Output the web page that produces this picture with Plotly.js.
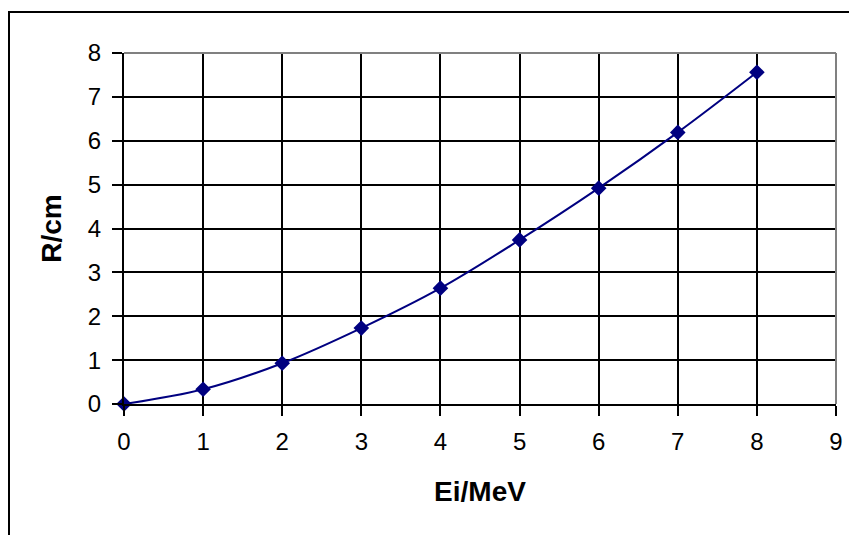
<!DOCTYPE html>
<html>
<head>
<meta charset="utf-8">
<script src="https://cdn.plot.ly/plotly-3.0.1.min.js"></script>
<style>
  html, body { margin: 0; padding: 0; background: #fff; overflow: hidden; }
  #wrap { position: relative; width: 849px; height: 535px; }
  #chart { position: absolute; left: 0; top: 0; width: 849px; height: 535px; }
  #frame { position: absolute; left: 8px; top: 11px; width: 900px; height: 600px;
           border-left: 2px solid #000; border-top: 2px solid #000; pointer-events: none; }
</style>
</head>
<body>
<div id="wrap">
  <div id="chart"></div>
  <div id="frame"></div>
</div>
<script>
// Data
const energyMeV = [0, 1, 2, 3, 4, 5, 6, 7, 8];
const rangeCm = [0, 0.335, 0.93, 1.73, 2.64, 3.74, 4.92, 6.19, 7.56];
const xTickVals = [0, 1, 2, 3, 4, 5, 6, 7, 8, 9];
const yTickVals = [0, 1, 2, 3, 4, 5, 6, 7, 8];
const xTitle = 'Ei/MeV';
const yTitle = 'R/cm';

const trace = {
  x: energyMeV,
  y: rangeCm,
  type: 'scatter',
  mode: 'lines+markers',
  line: { color: '#000080', width: 2, shape: 'spline', smoothing: 1 },
  marker: { symbol: 'diamond', size: 12, color: '#000080' },
  cliponaxis: false,
  showlegend: false
};

const layout = {
  width: 849,
  height: 535,
  margin: { l: 124, r: 13, t: 53, b: 131 },
  paper_bgcolor: '#ffffff',
  plot_bgcolor: '#ffffff',
  font: { family: 'Liberation Sans, Arial, sans-serif', color: '#000', size: 22 },
  xaxis: {
    range: [0, 9],
    tickvals: xTickVals,
    ticks: 'outside',
    ticklen: 10,
    tickwidth: 2,
    tickcolor: '#000',
    ticklabelstandoff: 5,
    showgrid: true,
    gridcolor: '#000',
    gridwidth: 2,
    zeroline: false,
    showline: true,
    linecolor: '#000',
    linewidth: 2,
    tickfont: { size: 24 },
    title: { text: xTitle, font: { size: 28, family: 'Liberation Sans, Arial, sans-serif', weight: 'bold' }, standoff: 28 },
    fixedrange: true
  },
  yaxis: {
    range: [0, 8],
    tickvals: yTickVals,
    ticks: 'outside',
    ticklen: 10,
    tickwidth: 2,
    tickcolor: '#000',
    ticklabelstandoff: 6,
    showgrid: true,
    gridcolor: '#000',
    gridwidth: 2,
    zeroline: false,
    showline: true,
    linecolor: '#000',
    linewidth: 2,
    tickfont: { size: 24 },
    title: { text: yTitle, font: { size: 28, family: 'Liberation Sans, Arial, sans-serif', weight: 'bold' }, standoff: 18 },
    fixedrange: true
  },
  shapes: [
    { type: 'line', xref: 'paper', yref: 'paper', x0: 0, x1: 1, y0: 1, y1: 1,
      line: { color: '#808080', width: 2 } },
    { type: 'line', xref: 'paper', yref: 'paper', x0: 1, x1: 1, y0: 0, y1: 1,
      line: { color: '#808080', width: 2 } }
  ]
};

Plotly.newPlot('chart', [trace], layout, { displayModeBar: false, staticPlot: true });
</script>
</body>
</html>
